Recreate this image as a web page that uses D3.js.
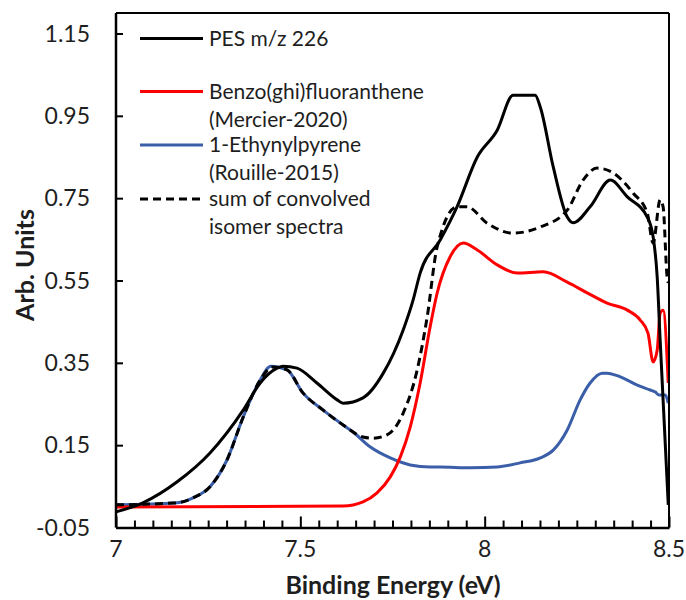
<!DOCTYPE html>
<html><head><meta charset="utf-8">
<script src="https://cdn.jsdelivr.net/npm/d3@7/dist/d3.min.js"></script>
<style>body{margin:0;background:#fff}svg{display:block}text{font-family:Lato,"Open Sans",sans-serif;fill:#1e1e1e}</style>
</head><body><svg id="c" width="686" height="600"></svg>
<script>
// Data: [binding energy (eV), arb. units]
const pesX = [7.000,7.073,7.166,7.255,7.345,7.391,7.437,7.453,7.491,7.545,7.600,7.616,7.670,7.725,7.779,7.806,7.825,7.879,7.925,7.980,8.034,8.077,8.137,8.151,8.186,8.224,8.240,8.286,8.341,8.387,8.441,8.457,8.468,8.476,8.498];
const pesY = [-0.012,0.010,0.061,0.131,0.235,0.301,0.337,0.342,0.337,0.301,0.260,0.252,0.265,0.325,0.430,0.503,0.568,0.648,0.729,0.850,0.915,1.000,1.000,0.971,0.826,0.704,0.690,0.729,0.794,0.753,0.704,0.656,0.558,0.405,0.005];

const bghiX = [7.000,7.616,7.670,7.708,7.744,7.771,7.798,7.825,7.852,7.871,7.906,7.942,7.980,8.034,8.088,8.159,8.224,8.278,8.332,8.387,8.422,8.443,8.457,8.468,8.476,8.484,8.498];
const bghiY = [0.000,0.002,0.012,0.034,0.073,0.121,0.194,0.301,0.437,0.519,0.607,0.641,0.624,0.588,0.568,0.571,0.546,0.520,0.495,0.478,0.454,0.422,0.352,0.381,0.471,0.478,0.301];

const ethX = [7.000,7.166,7.209,7.255,7.301,7.345,7.391,7.420,7.464,7.507,7.562,7.616,7.643,7.689,7.744,7.798,7.852,7.879,7.961,8.034,8.096,8.151,8.186,8.224,8.259,8.286,8.319,8.332,8.368,8.414,8.449,8.463,8.472,8.490,8.498];
const ethY = [0.005,0.010,0.022,0.049,0.114,0.218,0.308,0.342,0.333,0.277,0.235,0.199,0.182,0.146,0.119,0.102,0.097,0.097,0.095,0.097,0.107,0.119,0.138,0.187,0.260,0.301,0.325,0.325,0.316,0.296,0.284,0.279,0.272,0.272,0.252];

const sumX = [7.000,7.166,7.209,7.255,7.301,7.345,7.391,7.426,7.464,7.507,7.562,7.616,7.670,7.697,7.735,7.779,7.817,7.844,7.871,7.925,7.952,8.007,8.077,8.151,8.224,8.267,8.305,8.349,8.403,8.441,8.457,8.476,8.484,8.495,8.498];
const sumY = [0.005,0.010,0.022,0.049,0.114,0.218,0.308,0.340,0.333,0.277,0.235,0.199,0.170,0.167,0.175,0.228,0.333,0.461,0.631,0.729,0.729,0.689,0.665,0.680,0.721,0.794,0.823,0.811,0.762,0.714,0.641,0.746,0.729,0.558,0.544];

const xTicks = [7, 7.5, 8, 8.5];
const xTickLabels = ["7", "7.5", "8", "8.5"];
const yTicks = [-0.05, 0.15, 0.35, 0.55, 0.75, 0.95, 1.15];
const yTickLabels = ["-0.05", "0.15", "0.35", "0.55", "0.75", "0.95", "1.15"];
const legendLabels = [["PES m/z 226"], ["Benzo(ghi)fluoranthene", "(Mercier-2020)"], ["1-Ethynylpyrene", "(Rouille-2015)"], ["sum of convolved", "isomer spectra"]];
const xTitle = "Binding Energy (eV)";
const yTitle = "Arb. Units";

const svg = d3.select("#c");
const L = 116, R = 669, T = 13, B = 527.5;
const x = d3.scaleLinear().domain([7, 8.5]).range([L, R]);
const y = d3.scaleLinear().domain([-0.05, 1.15]).range([B, 33.5]);

const series = [
  {xs: pesX, ys: pesY, color: "#000000", dash: null},
  {xs: bghiX, ys: bghiY, color: "#ff0000", dash: null},
  {xs: ethX, ys: ethY, color: "#3a5ea8", dash: null},
  {xs: sumX, ys: sumY, color: "#000000", dash: "8,5"}
];

const line = d3.line().x(d => x(d[0])).y(d => y(d[1])).curve(d3.curveMonotoneX);
const g = svg.append("g");
[2, 1, 0, 3].forEach(i => {
  const s = series[i];
  g.append("path").datum(s.xs.map((v, k) => [v, s.ys[k]]))
    .attr("d", line).attr("fill", "none").attr("stroke", s.color)
    .attr("stroke-width", 3).attr("stroke-linejoin", "round")
    .attr("stroke-dasharray", s.dash);
});

// Frame
svg.append("line").attr("x1", L).attr("x2", R).attr("y1", T).attr("y2", T).attr("stroke", "#000").attr("stroke-width", 2);
svg.append("line").attr("x1", R).attr("x2", R).attr("y1", T).attr("y2", B).attr("stroke", "#000").attr("stroke-width", 2);

// x axis: ticks pointing inward (up), minor ticks every 0.05
const xAxis = d3.axisBottom(x).tickValues(d3.range(0, 31).map(i => 7 + i * 0.05))
  .tickSize(-7).tickFormat("").tickSizeOuter(0);
const gx = svg.append("g").attr("transform", `translate(0,${B})`).call(xAxis);
gx.selectAll(".tick line").attr("stroke-width", 2).attr("y2", d => xTicks.some(t => Math.abs(t - d) < 1e-6) ? -11 : -7);
gx.select(".domain").attr("stroke-width", 2.5);
svg.append("g").selectAll("text").data(xTicks).join("text")
  .attr("x", d => x(d)).attr("y", 557).attr("text-anchor", "middle")
  .attr("font-size", 23).text((d, i) => xTickLabels[i]);

// y axis: ticks pointing inward
const yAxis = d3.axisLeft(y).tickValues(yTicks).tickSize(-7).tickFormat("").tickSizeOuter(0);
const gy = svg.append("g").attr("transform", `translate(${L},0)`).call(yAxis);
gy.selectAll(".tick line").attr("stroke-width", 2);
gy.select(".domain").attr("stroke-width", 2.5).attr("d", `M0,${T}V${B}`);
svg.append("g").selectAll("text").data(yTicks).join("text")
  .attr("x", 90).attr("y", d => y(d) + 8).attr("text-anchor", "end")
  .attr("font-size", 23).text((d, i) => yTickLabels[i]);

// Titles
svg.append("text").attr("x", 393).attr("y", 594).attr("text-anchor", "middle")
  .attr("font-size", 25).attr("font-weight", "bold").text(xTitle);
svg.append("text").attr("transform", "translate(34,265) rotate(-90)").attr("text-anchor", "middle")
  .attr("font-size", 25).attr("font-weight", "bold").text(yTitle);

// Legend
const legY = [38.5, 91.5, 145, 199];
const lg = svg.append("g");
legendLabels.forEach((lines, i) => {
  const s = series[i];
  lg.append("line").attr("x1", 140).attr("x2", 203).attr("y1", legY[i]).attr("y2", legY[i])
    .attr("stroke", s.color).attr("stroke-width", 3).attr("stroke-dasharray", s.dash);
  lines.forEach((t, k) => {
    lg.append("text").attr("x", 209).attr("y", legY[i] + 7 + k * 28).attr("font-size", 21).text(t);
  });
});
</script></body></html>
